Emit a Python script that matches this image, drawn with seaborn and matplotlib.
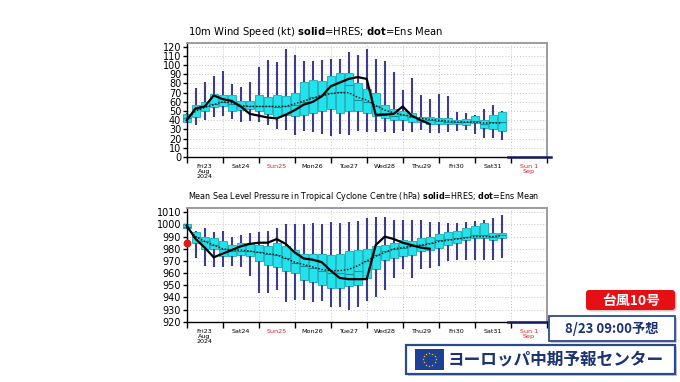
import numpy as np
import pandas as pd
import matplotlib
matplotlib.use("Agg")
import matplotlib.pyplot as plt
import seaborn as sns
from matplotlib.patches import Rectangle, FancyBboxPatch

# 6-hourly steps from Fri 23 Aug 2024 00 UTC
ens_hours = list(range(0, 216, 6))
hres_hours = list(range(0, 168, 6))

day_labels = ["Fri23\nAug\n2024", "Sat24", "Sun25", "Mon26", "Tue27",
              "Wed28", "Thu29", "Fri30", "Sat31", "Sun 1\nSep"]
day_is_sunday = [False, False, True, False, False, False, False, False, False, True]

# 10m wind speed (kt)
wind_min = [37, 35, 40, 44, 45, 41, 38, 39, 38, 35, 30, 29, 24, 28, 27, 25, 23, 25, 24, 28, 27, 27, 27, 26, 28, 27, 29, 26, 26, 27, 28, 29, 25, 21, 21, 18]
wind_q1 = [38, 44, 50, 54, 56, 50, 51, 52, 50, 47, 44, 46, 45, 46, 48, 50, 52, 48, 50, 50, 48, 45, 42, 40, 40, 38, 38, 36, 36, 36, 36, 35, 37, 32, 31, 28]
wind_med = [42, 52, 55, 58, 60, 58, 55, 55, 56, 55, 54, 55, 57, 60, 65, 67, 70, 71, 78, 62, 60, 55, 48, 45, 46, 44, 40, 40, 39, 38, 38, 38, 39, 36, 38, 38]
wind_q3 = [47, 57, 60, 69, 68, 67, 61, 61, 67, 65, 67, 66, 70, 82, 84, 83, 88, 91, 91, 80, 74, 70, 57, 52, 50, 48, 43, 44, 42, 42, 40, 41, 45, 40, 46, 49]
wind_max = [48, 75, 82, 88, 94, 79, 76, 82, 98, 106, 103, 118, 111, 105, 105, 106, 107, 107, 114, 111, 118, 107, 105, 93, 73, 86, 67, 63, 69, 66, 49, 48, 46, 52, 57, 50]
wind_mean = [42, 50, 54, 57, 60, 59, 56, 55, 55, 55, 55, 55, 58, 61, 64, 67, 69, 70, 70, 65, 62, 56, 51, 48, 46, 44, 42, 41, 40, 39, 38, 38, 38, 37, 37, 37]
wind_hres = [40, 53, 55, 67, 63, 61, 55, 47, 45, 43, 42, 46, 51, 57, 60, 66, 77, 81, 85, 87, 85, 46, 46, 47, 55, 45, 40, 36]

# MSLP in cyclone centre (hPa)
pres_min = [996, 972, 966, 965, 965, 966, 965, 958, 944, 944, 946, 936, 938, 938, 936, 937, 932, 932, 930, 932, 937, 940, 946, 956, 963, 956, 963, 964, 966, 970, 971, 971, 971, 971, 971, 972]
pres_q1 = [997, 985, 980, 980, 974, 974, 975, 974, 970, 967, 965, 962, 960, 954, 953, 950, 948, 948, 949, 950, 956, 963, 971, 972, 974, 975, 978, 979, 981, 983, 985, 987, 989, 989, 987, 989]
pres_med = [998, 990, 986, 983, 980, 978, 978, 978, 977, 976, 975, 972, 968, 966, 964, 962, 960, 960, 959, 962, 970, 975, 978, 980, 981, 982, 983, 985, 987, 988, 989, 990, 991, 991, 990, 991]
pres_q3 = [1000, 994, 990, 989, 986, 983, 985, 985, 983, 982, 985, 982, 979, 976, 976, 976, 975, 976, 978, 979, 980, 982, 983, 985, 987, 986, 989, 990, 992, 994, 995, 997, 999, 1001, 993, 993]
pres_max = [1000, 995, 997, 994, 995, 990, 991, 993, 994, 995, 997, 1000, 1000, 1000, 1001, 1000, 1002, 1001, 1002, 1003, 1005, 1006, 1006, 1004, 1004, 1004, 1004, 1002, 1002, 1001, 1001, 1002, 1003, 1004, 1005, 1008]
pres_mean = [998, 990, 986, 983, 980, 979, 979, 978, 977, 976, 975, 972, 969, 967, 965, 963, 962, 962, 963, 966, 970, 974, 977, 980, 981, 982, 983, 984, 986, 987, 988, 989, 990, 990, 990, 991]
pres_hres = [999, 988, 981, 973, 976, 979, 982, 984, 985, 985, 988, 984, 977, 972, 971, 969, 962, 956, 955, 955, 955, 983, 990, 988, 985, 983, 981, 980]

obs_day = [0]
obs_pres = [985]

BOX = "#22e3ec"
BOX_EDGE = "#17a9b6"
WHISK = "#3d3d8d"
MEDIAN = "#0f8e9e"
NAVY = "#1c3372"

W, H = 680, 382


def draw_panel(ax, lo, q1, med, q3, hi, mean, hres, ylim, yticks):
    days = np.array(ens_hours) / 24
    df = pd.DataFrame({
        "day": np.repeat(days, 5),
        "value": np.column_stack([lo, q1, med, q3, hi]).ravel(),
    })
    sns.boxplot(data=df, x="day", y="value", native_scale=True, orient="x",
                whis=(0, 100), width=0.92, color=BOX, linecolor=BOX_EDGE,
                linewidth=0.6, saturation=1, fliersize=0, ax=ax,
                whiskerprops=dict(color=WHISK, linewidth=1.5),
                capprops=dict(linewidth=0),
                medianprops=dict(color=MEDIAN, linewidth=0.8))
    sns.lineplot(x=days, y=mean, ax=ax, color="#1a1a1a", linewidth=1.1,
                 linestyle=(0, (1, 1.1)), zorder=5)
    sns.lineplot(x=np.array(hres_hours) / 24, y=hres, ax=ax, color="black",
                 linewidth=1.6, zorder=6)
    for a in ax.lines + ax.patches:
        a.set_clip_on(False)

    ax.set_xlim(0, 10)
    ax.set_ylim(*ylim)
    ax.set_xlabel("")
    ax.set_ylabel("")
    ax.set_yticks(yticks)
    ax.set_yticklabels([str(v) for v in yticks], fontsize=7)
    ax.set_xticks(np.arange(0, 11))
    ax.set_xticklabels([])
    ax.set_xticks(np.arange(0.5, 10), minor=True)
    ax.set_xticklabels(day_labels, minor=True, fontsize=4.6, linespacing=1.0)
    for lbl, sun in zip(ax.get_xticklabels(minor=True), day_is_sunday):
        if sun:
            lbl.set_color("#e02020")
    ax.tick_params(axis="x", which="minor", length=0, pad=5)
    ax.tick_params(axis="x", which="major", length=4, width=1, color="black")
    ax.tick_params(axis="y", length=3, width=1, pad=1)
    ax.grid(True, which="major", color="#c4c4c4", linestyle=(0, (1, 2)), linewidth=0.7)
    ax.set_axisbelow(True)
    for side in ["top", "right"]:
        ax.spines[side].set_color("#9c9c9c")
        ax.spines[side].set_linewidth(1.4)
    for side in ["left", "bottom"]:
        ax.spines[side].set_color("black")
        ax.spines[side].set_linewidth(1.0)
    # dark bar on the axis after the last ensemble step
    ax.plot([8.93, 10.12], [ylim[0], ylim[0]], color="#1a1a66", linewidth=1.8,
            clip_on=False, zorder=7)


fig = plt.figure(figsize=(6.8, 3.82), dpi=100)

ax1 = fig.add_axes([186.7 / W, 1 - 157 / H, 360 / W, (157 - 42.7) / H])
draw_panel(ax1, wind_min, wind_q1, wind_med, wind_q3, wind_max, wind_mean, wind_hres,
           (0, 124.4), list(range(0, 121, 10)))

ax2 = fig.add_axes([186.7 / W, 1 - 321.7 / H, 360 / W, (321.7 - 208.3) / H])
draw_panel(ax2, pres_min, pres_q1, pres_med, pres_q3, pres_max, pres_mean, pres_hres,
           (920, 1013.3), list(range(920, 1011, 10)))
ax2.scatter(obs_day, obs_pres, s=22, color="#dd1a1a", zorder=8, clip_on=False)

fig.text(188 / W, 1 - 32 / H,
         r"10m Wind Speed (kt) $\mathbf{solid}$=HRES; $\mathbf{dot}$=Ens Mean",
         fontsize=7.2, va="center", ha="left")
fig.text(188 / W, 1 - 197 / H,
         r"Mean Sea Level Pressure in Tropical Cyclone Centre (hPa) $\mathbf{solid}$=HRES; $\mathbf{dot}$=Ens Mean",
         fontsize=5.8, va="center", ha="left")

# overlay labels in pixel coordinates
ov = fig.add_axes([0, 0, 1, 1])
ov.set_xlim(0, W)
ov.set_ylim(H, 0)
ov.axis("off")
jp = ["Noto Sans CJK JP", "DejaVu Sans"]

ov.add_patch(FancyBboxPatch((587.5, 291.5), 89, 20, boxstyle="round,pad=0,rounding_size=3",
                            facecolor="#c8c8c8", edgecolor="none"))
ov.add_patch(FancyBboxPatch((586, 290), 89, 20, boxstyle="round,pad=0,rounding_size=3",
                            facecolor="#e60f14", edgecolor="none"))
ov.text(631, 300.5, "台風10号", family=jp, fontsize=10, fontweight="bold",
        color="white", ha="center", va="center")

ov.add_patch(Rectangle((551, 317.5), 126, 25, facecolor="#c8c8c8", edgecolor="none"))
ov.add_patch(Rectangle((549, 315.5), 126, 25, facecolor="white", edgecolor="#2a4a90", linewidth=1.3))
ov.text(612, 328.5, "8/23 09:00予想", family=jp, fontsize=9.5, fontweight="bold",
        color=NAVY, ha="center", va="center")

ov.add_patch(Rectangle((408, 347), 269, 29, facecolor="#c8c8c8", edgecolor="none"))
ov.add_patch(Rectangle((406, 345), 269, 29, facecolor="white", edgecolor="#2a4a90", linewidth=1.6))
ov.add_patch(Rectangle((414.5, 349), 29.5, 20.5, facecolor="#1d3f94", edgecolor="none"))
ang = np.linspace(0, 2 * np.pi, 12, endpoint=False)
ov.scatter(429.2 + 6.5 * np.cos(ang), 359.2 + 6.5 * np.sin(ang), marker="*", s=3,
           color="#ffcc00", linewidths=0)
ov.text(448, 359.5, "ヨーロッパ中期予報センター", family=jp, fontsize=12, fontweight="bold",
        color=NAVY, ha="left", va="center")

fig.savefig("out.png", dpi=100, facecolor="white")
